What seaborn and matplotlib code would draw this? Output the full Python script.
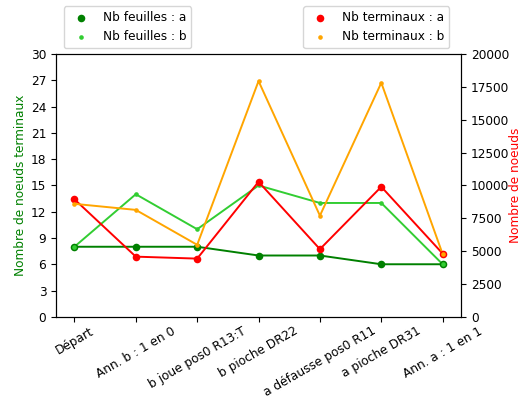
import numpy as np
import pandas as pd
import matplotlib
matplotlib.use('Agg')
import matplotlib.pyplot as plt
import seaborn as sns

plt.rcParams['font.size'] = 8.7

etapes = ['Départ', 'Ann. b : 1 en 0', 'b joue pos0 R13:T', 'b pioche DR22',
          'a défausse pos0 R11', 'a pioche DR31', 'Ann. a : 1 en 1']
feuilles_a = [8, 8, 8, 7, 7, 6, 6]
feuilles_b = [8, 14, 10, 15, 13, 13, 6]
terminaux_a = [8950, 4580, 4430, 10280, 5150, 9900, 4810]
terminaux_b = [8600, 8140, 5480, 17950, 7700, 17820, 4770]

df = pd.DataFrame({'pos': np.arange(len(etapes)), 'etape': etapes,
                   'fa': feuilles_a, 'fb': feuilles_b,
                   'ta': terminaux_a, 'tb': terminaux_b})

fig, ax = plt.subplots(figsize=(5.21, 4.01), dpi=100)
fig.subplots_adjust(left=0.1075, right=0.885, top=0.865, bottom=0.21)

# Axe gauche : feuilles
sns.lineplot(x='pos', y='fa', data=df, color='green', linewidth=1.4, legend=False, ax=ax)
sns.lineplot(x='pos', y='fb', data=df, color='limegreen', linewidth=1.4, legend=False, ax=ax)
sns.scatterplot(x='pos', y='fa', data=df, color='green', s=30, linewidth=0, label='Nb feuilles : a', ax=ax, zorder=3)
sns.scatterplot(x='pos', y='fb', data=df, color='limegreen', s=11, linewidth=0, label='Nb feuilles : b', ax=ax, zorder=3)
ax.set_ylim(0, 30)
ax.set_yticks(range(0, 31, 3))
ax.set_ylabel('Nombre de noeuds terminaux', color='green', labelpad=3)
ax.set_xlabel('')
ax.set_xticks(df['pos'])
ax.set_xticklabels(etapes, rotation=30)
ax.tick_params(axis='x', pad=2)
ax.legend(loc='lower left', bbox_to_anchor=(0.005, 1.0))

# Axe droit : terminaux
ax2 = ax.twinx()
sns.lineplot(x='pos', y='ta', data=df, color='red', linewidth=1.4, legend=False, ax=ax2)
sns.lineplot(x='pos', y='tb', data=df, color='orange', linewidth=1.4, legend=False, ax=ax2)
sns.scatterplot(x='pos', y='ta', data=df, color='red', s=30, linewidth=0, label='Nb terminaux : a', ax=ax2, zorder=3)
sns.scatterplot(x='pos', y='tb', data=df, color='orange', s=11, linewidth=0, label='Nb terminaux : b', ax=ax2, zorder=3)
ax2.set_ylim(0, 20000)
ax2.set_yticks(range(0, 20001, 2500))
ax2.set_ylabel('Nombre de noeuds', color='red', labelpad=0)
ax2.legend(loc='lower right', bbox_to_anchor=(0.985, 1.0))

plt.savefig('out.png', dpi=100)
